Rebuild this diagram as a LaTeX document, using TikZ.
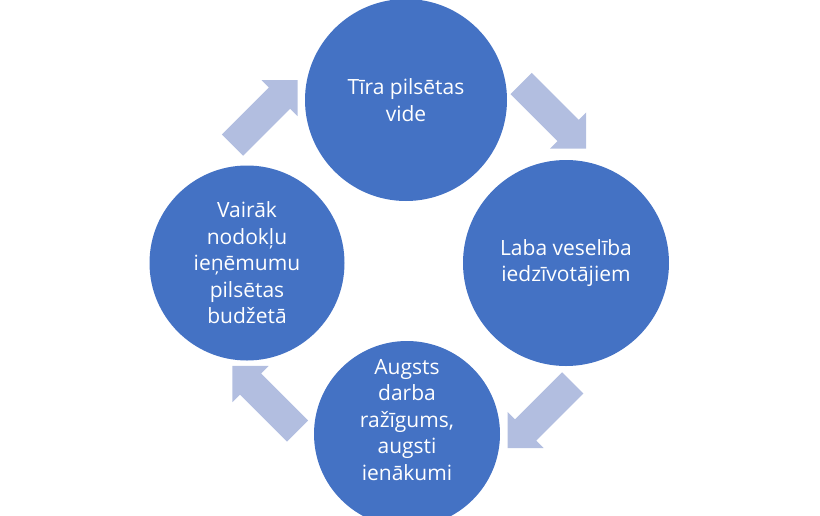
\documentclass[tikz,border=0pt]{standalone}
\usepackage{fontspec}
\setmainfont{Open Sans}
\definecolor{circblue}{HTML}{4472C4}
\definecolor{arrowblue}{RGB}{178,190,224}

\begin{document}
\begin{tikzpicture}[x=1pt,y=-1pt,
    bubble/.style={circle, fill=circblue, inner sep=0pt},
    lbl/.style={text=white, align=center, font=\fontsize{21}{26.5}\selectfont},
    flow/.style={fill=arrowblue}]
    \useasboundingbox (0,0) rectangle (820,515);

    % circles of the cycle
    \node[bubble, minimum size=202pt] (clean) at (406,100) {};
    \node[bubble, minimum size=206pt] (health) at (566,263) {};
    \node[bubble, minimum size=186pt] (prod) at (407,434) {};
    \node[bubble, minimum size=195pt] (tax) at (247,263) {};

    % texts
    \node[lbl] (cleanT) at (clean) {Tīra pilsētas\\vide};
    \node[lbl] (healthT) at (health) {Laba veselība\\iedzīvotājiem};
    \node[lbl] (prodT) at ([yshift=14pt]prod.center) {Augsts\\darba\\ražīgums,\\augsti\\ienākumi};
    \node[lbl] (taxT) at (tax) {Vairāk\\nodokļu\\ieņēmumu\\pilsētas\\budžetā};

    % block arrows between the circles
    \foreach \cx/\cy/\ang in {553.6/116/-45, 540.2/415.5/-135, 265/398.5/135, 265.1/112.6/45}
      \fill[flow, shift={(\cx,\cy)}, rotate=\ang]
        (-46,-15) -- (20.5,-15) -- (20.5,-25.5) -- (46,0) -- (20.5,25.5) -- (20.5,15) -- (-46,15) -- cycle;
\end{tikzpicture}
\end{document}
